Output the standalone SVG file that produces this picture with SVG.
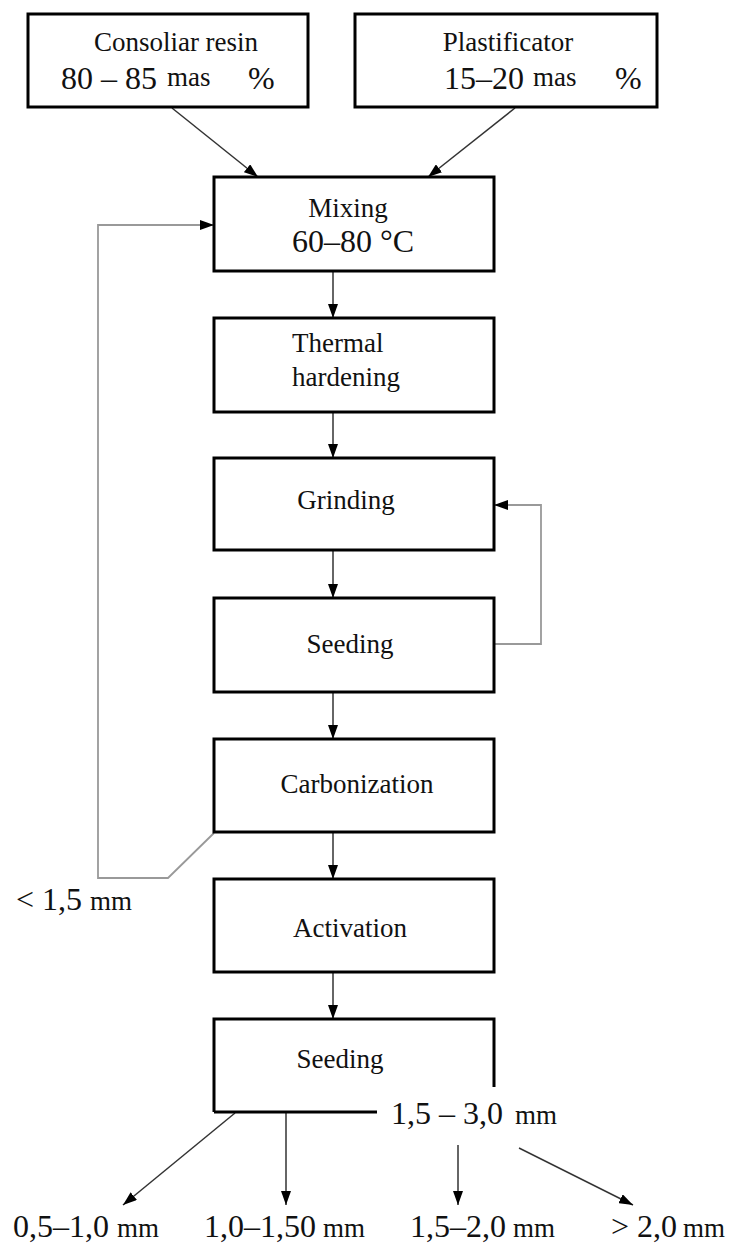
<svg xmlns="http://www.w3.org/2000/svg" width="729" height="1243" viewBox="0 0 729 1243">
<style>
.box{fill:#fff;stroke:#000;stroke-width:3}
.t{font-family:"Liberation Serif","Times New Roman",serif;fill:#111}
.lbl{font-size:27px}
.num{font-size:32px}
.unit{font-size:27px}
.ln{fill:none;stroke:#333;stroke-width:1.5}
.fb{fill:none;stroke:#999;stroke-width:1.8}
</style>
<defs>
<marker id="ah" viewBox="0 0 14 10" refX="14" refY="5" markerWidth="14" markerHeight="10" markerUnits="userSpaceOnUse" orient="auto">
<path d="M0,0 L14,5 L0,10 z" fill="#000"/>
</marker>
</defs>
<rect width="729" height="1243" fill="#fff"/>
<g id="connectors">
<path class="ln" d="M172,108 L258,177" marker-end="url(#ah)"/>
<path class="ln" d="M515,108 L428,177" marker-end="url(#ah)"/>
<path class="ln" d="M333,271 V318" marker-end="url(#ah)"/>
<path class="ln" d="M333,412 V458" marker-end="url(#ah)"/>
<path class="ln" d="M333,550 V598" marker-end="url(#ah)"/>
<path class="ln" d="M333,692 V739" marker-end="url(#ah)"/>
<path class="ln" d="M333,832 V879" marker-end="url(#ah)"/>
<path class="ln" d="M333,972 V1019" marker-end="url(#ah)"/>
<path class="fb" d="M494,644 H541 V505 H494" marker-end="url(#ah)"/>
<path class="fb" d="M214,833 L168,878 H98 V225 H214" marker-end="url(#ah)"/>
<path class="ln" d="M235,1113 L123,1205" marker-end="url(#ah)"/>
<path class="ln" d="M286,1113 V1205" marker-end="url(#ah)"/>
<path class="ln" d="M458,1145 V1205" marker-end="url(#ah)"/>
<path class="ln" d="M519,1148 L633,1205" marker-end="url(#ah)"/>
</g>
<g id="resin">
<rect class="box" x="28" y="14" width="280" height="93"/>
<text class="t lbl" x="176" y="51" text-anchor="middle">Consoliar resin</text>
<text class="t num" x="61" y="89">80 – 85</text>
<text class="t unit" x="167" y="86">mas</text>
<text class="t num" x="248" y="89">%</text>
</g>
<g id="plastificator">
<rect class="box" x="355" y="14" width="302" height="93"/>
<text class="t lbl" x="508" y="51" text-anchor="middle">Plastificator</text>
<text class="t num" x="444" y="89">15–20</text>
<text class="t unit" x="533" y="86">mas</text>
<text class="t num" x="615" y="89">%</text>
</g>
<g id="mixing">
<rect class="box" x="214" y="177" width="280" height="94"/>
<text class="t lbl" x="348" y="217" text-anchor="middle">Mixing</text>
<text class="t num" x="353" y="252" text-anchor="middle">60–80 °C</text>
</g>
<g id="thermal">
<rect class="box" x="214" y="318" width="280" height="94"/>
<text class="t lbl" x="292" y="352">Thermal</text>
<text class="t lbl" x="292" y="386">hardening</text>
</g>
<g id="grinding">
<rect class="box" x="214" y="458" width="280" height="92"/>
<text class="t lbl" x="346" y="509" text-anchor="middle">Grinding</text>
</g>
<g id="seeding1">
<rect class="box" x="214" y="598" width="280" height="94"/>
<text class="t lbl" x="350" y="653" text-anchor="middle">Seeding</text>
</g>
<g id="carbonization">
<rect class="box" x="214" y="739" width="280" height="93"/>
<text class="t lbl" x="357" y="793" text-anchor="middle">Carbonization</text>
</g>
<g id="activation">
<rect class="box" x="214" y="879" width="280" height="93"/>
<text class="t lbl" x="350" y="937" text-anchor="middle">Activation</text>
</g>
<g id="seeding2">
<path d="M214,1112 V1019 H494 V1087 M214,1112 H377" fill="none" stroke="#000" stroke-width="3"/>
<text class="t lbl" x="340" y="1068" text-anchor="middle">Seeding</text>
</g>
<g id="labels">
<text class="t num" x="16" y="910">&lt; 1,5</text>
<text class="t unit" x="90" y="910">mm</text>
<text class="t num" x="391" y="1124">1,5 – 3,0</text>
<text class="t unit" x="515" y="1124">mm</text>
<text class="t num" x="13" y="1237">0,5–1,0</text>
<text class="t unit" x="117" y="1237">mm</text>
<text class="t num" x="204" y="1237">1,0–1,50</text>
<text class="t unit" x="323" y="1237">mm</text>
<text class="t num" x="410" y="1237">1,5–2,0</text>
<text class="t unit" x="513" y="1237">mm</text>
<text class="t num" x="611" y="1237">&gt; 2,0</text>
<text class="t unit" x="683" y="1237">mm</text>
</g>
</svg>
